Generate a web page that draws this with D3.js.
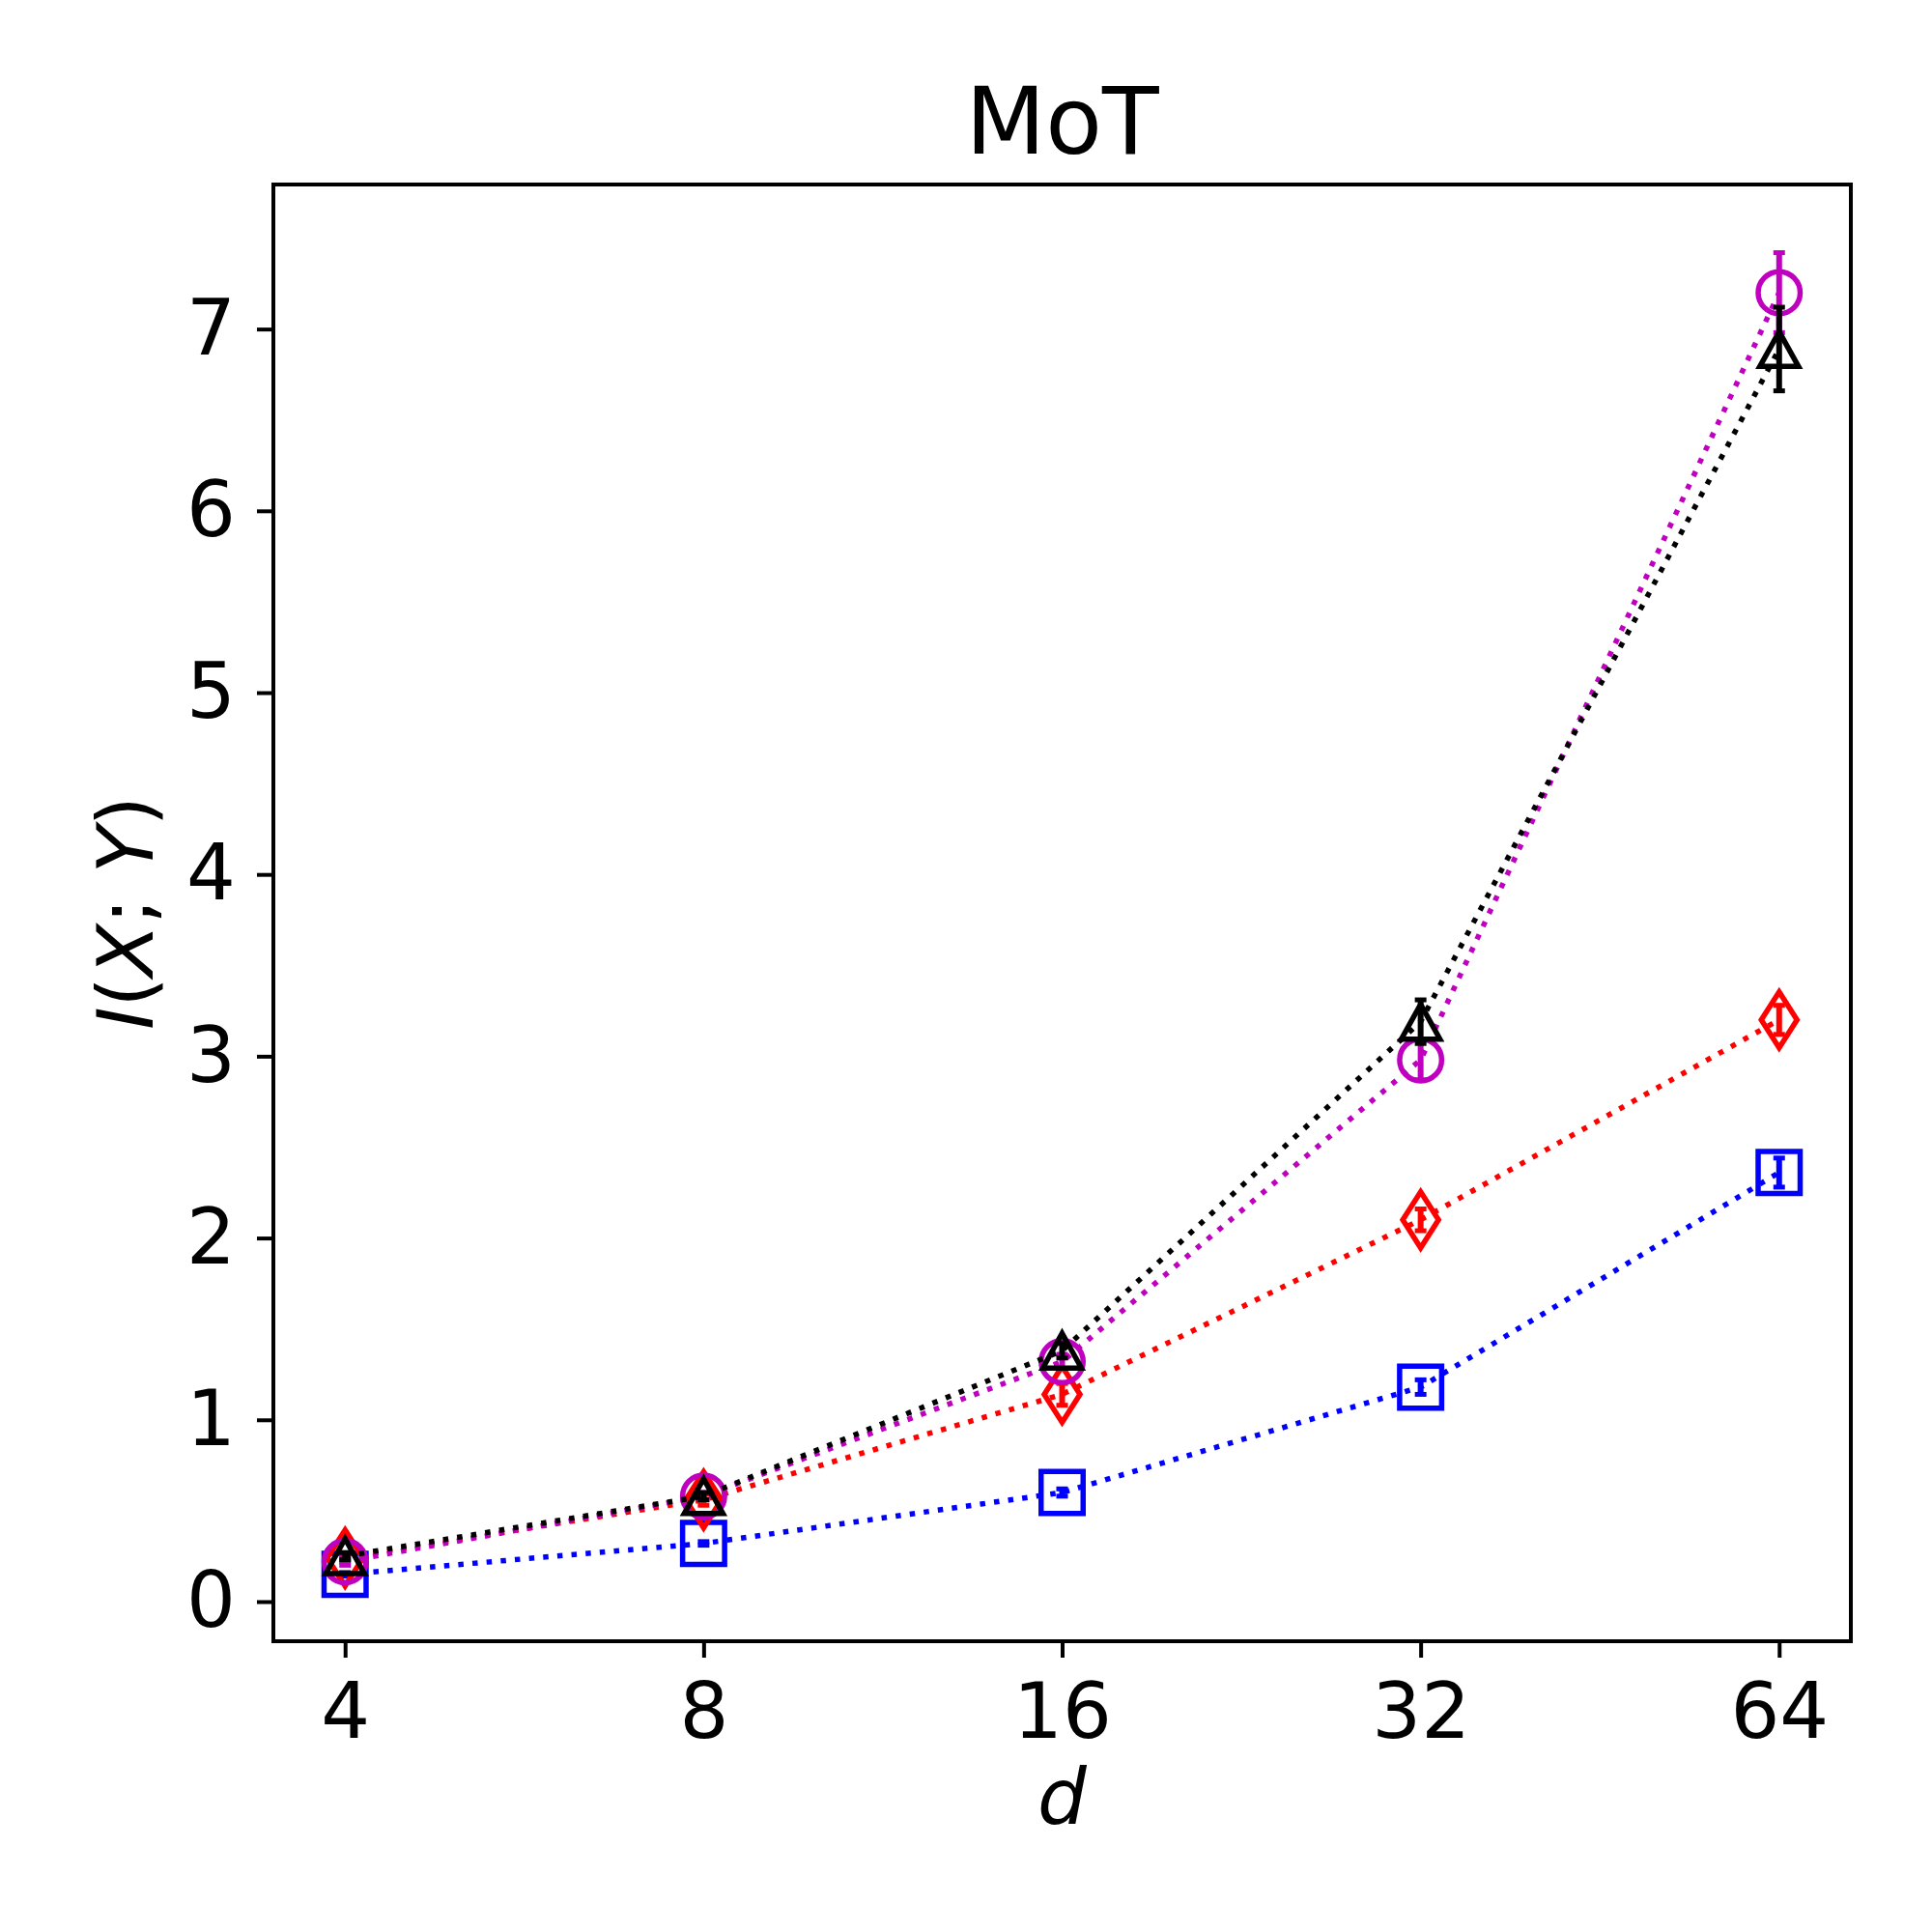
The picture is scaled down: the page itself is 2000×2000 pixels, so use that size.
<!DOCTYPE html>
<html>
<head>
<meta charset="utf-8">
<script src="https://cdn.jsdelivr.net/npm/d3@7"></script>
<style>
  body { margin: 0; background: #fff; }
  text { font-family: "DejaVu Sans", sans-serif; }
</style>
</head>
<body>
<div class="graph"></div>
<script>
// data
const dims = [4, 8, 16, 32, 64];
const yTicks = [0, 1, 2, 3, 4, 5, 6, 7];

const blueVals = [0.15, 0.32, 0.60, 1.18, 2.36];
const blueErr = [0.01, 0.01, 0.02, 0.04, 0.08];
const redVals = [0.24, 0.56, 1.14, 2.10, 3.20];
const redErr = [0.02, 0.03, 0.06, 0.06, 0.08];
const magVals = [0.22, 0.58, 1.32, 2.98, 7.20];
const magErr = [0.02, 0.02, 0.04, 0.11, 0.22];
const blackVals = [0.25, 0.58, 1.38, 3.19, 6.89];
const blackErr = [0.02, 0.02, 0.04, 0.12, 0.23];

const series = [
    {vals: blueVals, err: blueErr, color: "#0000ff", marker: "square"},
    {vals: redVals, err: redErr, color: "#ff0000", marker: "diamond"},
    {vals: magVals, err: magErr, color: "#bf00bf", marker: "circle"},
    {vals: blackVals, err: blackErr, color: "#000000", marker: "triangle"}
];

const W = 2000, H = 2000;
const axLeft = 283, axRight = 1916, axTop = 191, axBottom = 1699;
const lw = 5.5;

const svg = d3.select(".graph").append("svg")
    .attr("width", W)
    .attr("height", H);

//Scales
const x = d3.scaleLog().base(2)
    .domain([4 / Math.pow(2, 0.2), 64 * Math.pow(2, 0.2)])
    .range([axLeft, axRight]);

const y = d3.scaleLinear()
    .domain([-0.218, 7.795])
    .range([axBottom, axTop]);

//Axes
const xAxis = svg.append("g")
    .attr("transform", "translate(0," + axBottom + ")")
    .call(d3.axisBottom(x).tickValues(dims).tickFormat(d3.format("d")).tickSize(17).tickPadding(22));

const yAxis = svg.append("g")
    .attr("transform", "translate(" + axLeft + ",0)")
    .call(d3.axisLeft(y).tickValues(yTicks).tickFormat(d3.format("d")).tickSize(17).tickPadding(22));

[xAxis, yAxis].forEach(function(a){
    a.select(".domain").remove();
    a.selectAll(".tick line").attr("stroke", "#000").attr("stroke-width", 4);
    a.selectAll(".tick text")
        .attr("fill", "#000")
        .style("font-family", "'DejaVu Sans', sans-serif")
        .style("font-size", "80px");
});
xAxis.selectAll(".tick text").attr("dy", "0.76em");

//Lines, error bars, markers
const line = d3.line()
    .x(function(d, i){ return x(dims[i]); })
    .y(function(d){ return y(d); });

const plot = svg.append("g");

series.forEach(function(s){
    plot.append("path")
        .datum(s.vals)
        .attr("d", line)
        .attr("fill", "none")
        .attr("stroke", s.color)
        .attr("stroke-width", lw)
        .attr("stroke-dasharray", "5.5,9.2");

    const eb = plot.append("g").selectAll("g")
        .data(s.vals)
        .enter().append("g");

    eb.append("line")
        .attr("x1", function(d, i){ return x(dims[i]); })
        .attr("x2", function(d, i){ return x(dims[i]); })
        .attr("y1", function(d, i){ return y(d - s.err[i]); })
        .attr("y2", function(d, i){ return y(d + s.err[i]); })
        .attr("stroke", s.color)
        .attr("stroke-width", 6);

    [-1, 1].forEach(function(sign){
        eb.append("line")
            .attr("x1", function(d, i){ return x(dims[i]) - 6; })
            .attr("x2", function(d, i){ return x(dims[i]) + 6; })
            .attr("y1", function(d, i){ return y(d + sign * s.err[i]); })
            .attr("y2", function(d, i){ return y(d + sign * s.err[i]); })
            .attr("stroke", s.color)
            .attr("stroke-width", 5);
    });

    const m = plot.append("g").selectAll("path")
        .data(s.vals)
        .enter().append("path")
        .attr("transform", function(d, i){ return "translate(" + x(dims[i]) + "," + y(d) + ")"; })
        .attr("fill", "none")
        .attr("stroke", s.color)
        .attr("stroke-width", lw)
        .attr("stroke-linejoin", "miter");

    if(s.marker === "circle"){
        m.attr("d", d3.symbol().type(d3.symbolCircle).size(Math.PI * 21.75 * 21.75));
    } else if(s.marker === "square"){
        m.attr("d", "M-21.75,-21.75H21.75V21.75H-21.75Z");
    } else if(s.marker === "diamond"){
        m.attr("d", "M0,-29L18.5,0L0,29L-18.5,0Z");
    } else {
        m.attr("d", "M0,-18L20,18L-20,18Z");
    }
});

//Frame
svg.append("rect")
    .attr("x", axLeft)
    .attr("y", axTop)
    .attr("width", axRight - axLeft)
    .attr("height", axBottom - axTop)
    .attr("fill", "none")
    .attr("stroke", "#000")
    .attr("stroke-width", 4);

//Title and labels
svg.append("text")
    .attr("x", (axLeft + axRight) / 2)
    .attr("y", 159)
    .attr("text-anchor", "middle")
    .style("font-size", "96px")
    .text("MoT");

svg.append("text")
    .attr("x", (axLeft + axRight) / 2)
    .attr("y", 1888)
    .attr("text-anchor", "middle")
    .style("font-size", "80px")
    .style("font-style", "italic")
    .text("d");

const yl = svg.append("text")
    .attr("transform", "translate(158," + ((axTop + axBottom) / 2) + ") rotate(-90)")
    .attr("text-anchor", "middle")
    .style("font-size", "80px");
yl.append("tspan").style("font-style", "italic").text("I");
yl.append("tspan").text("(");
yl.append("tspan").style("font-style", "italic").text("X");
yl.append("tspan").text("; ");
yl.append("tspan").style("font-style", "italic").text("Y");
yl.append("tspan").text(")");
</script>
</body>
</html>
